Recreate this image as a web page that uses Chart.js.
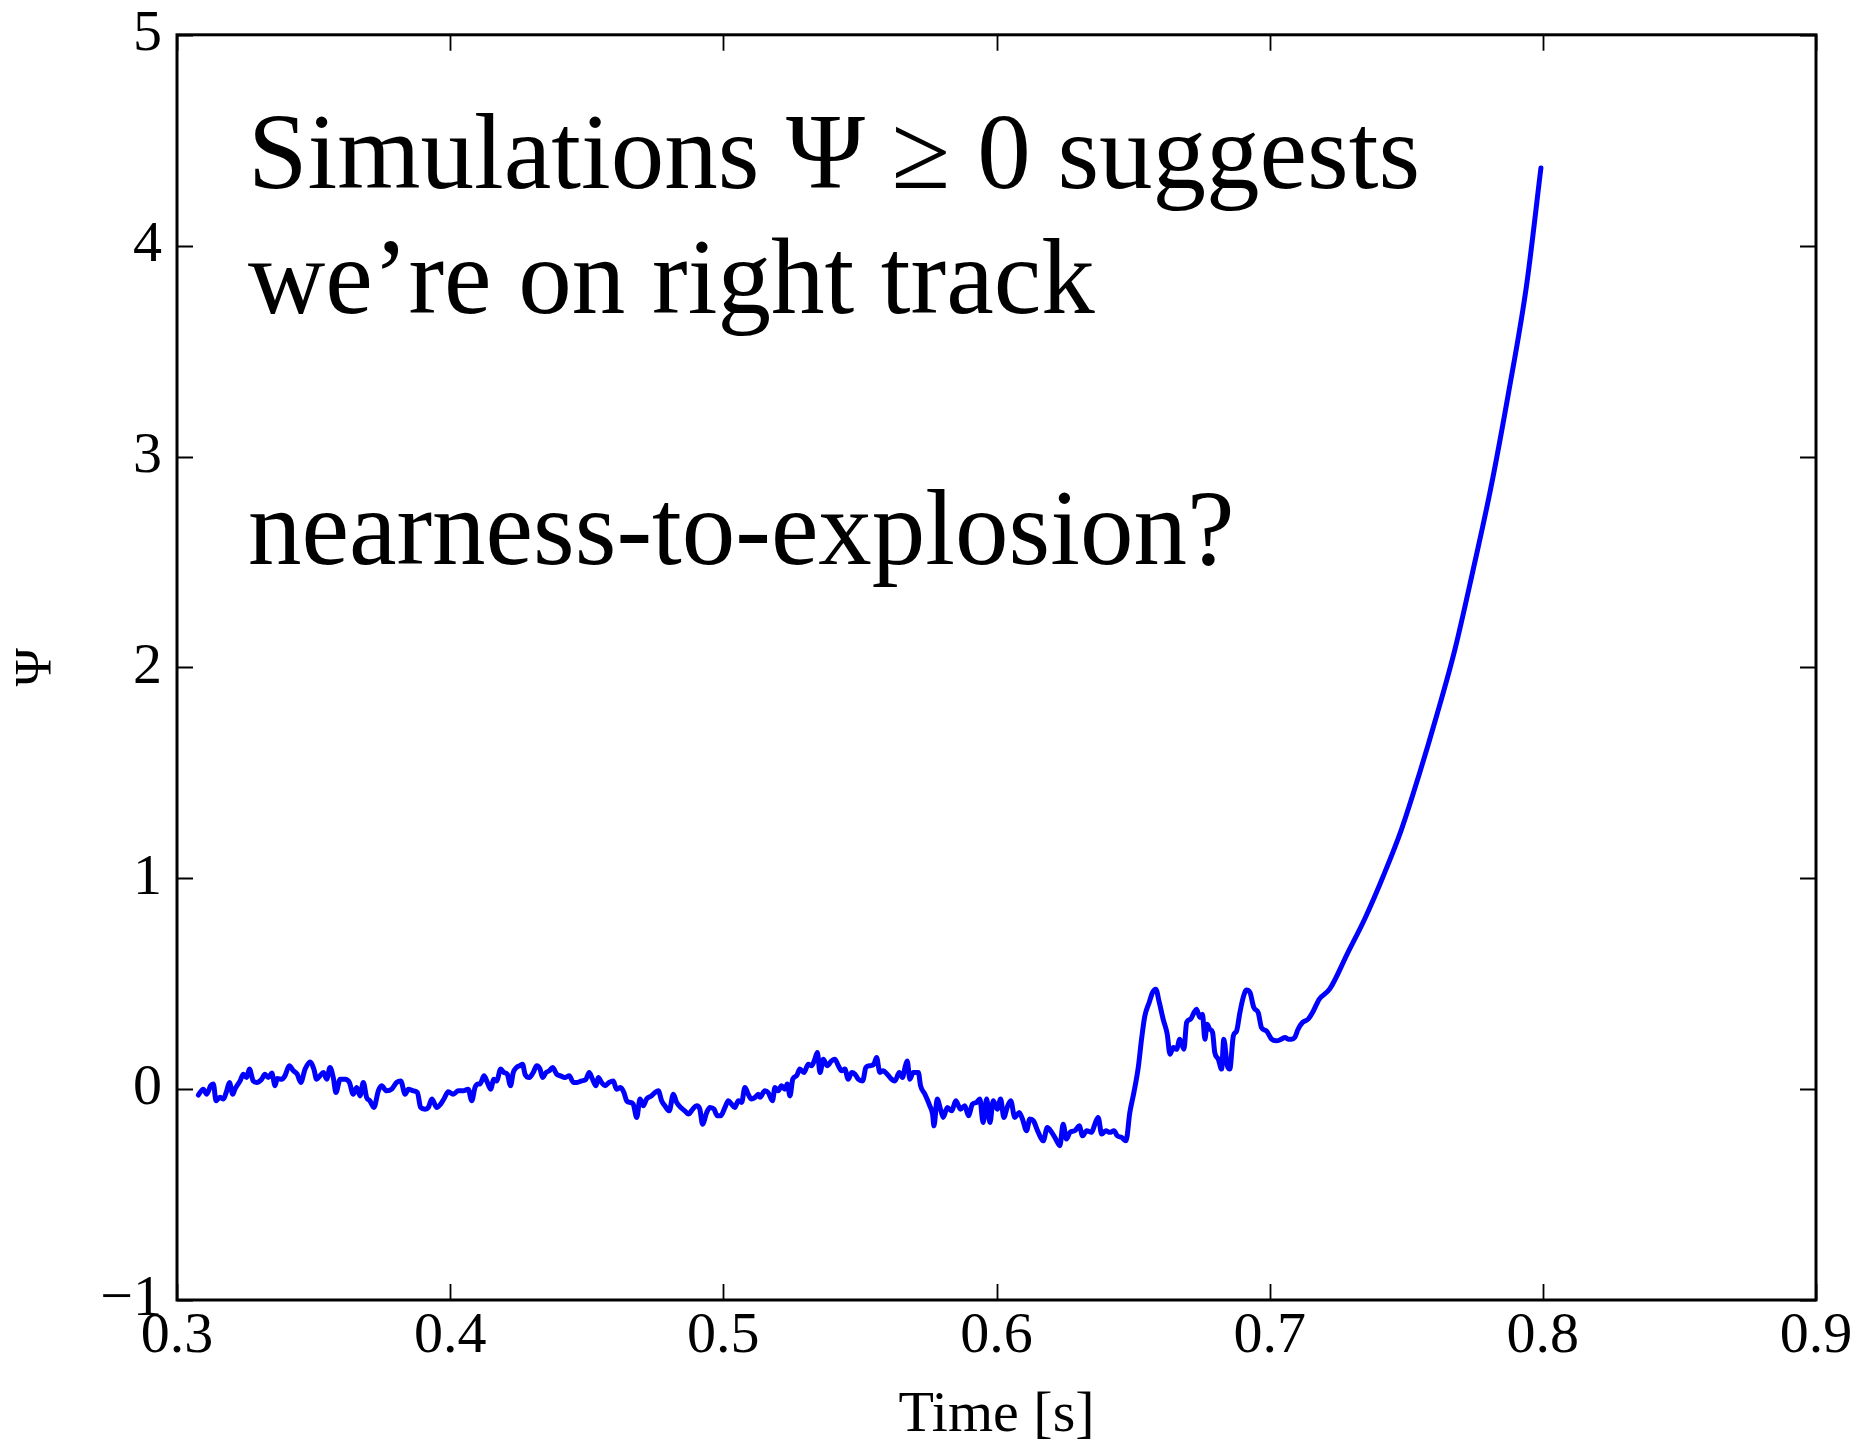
<!DOCTYPE html>
<html>
<head>
<meta charset="utf-8">
<title>Psi versus time</title>
<script src="https://cdn.jsdelivr.net/npm/chart.js@4.4.1/dist/chart.umd.min.js"></script>
<style>
  html, body { margin: 0; padding: 0; background: #fff; }
  #wrap { position: relative; width: 1870px; height: 1442px; }
</style>
</head>
<body>
<div id="wrap"><canvas id="c" width="1870" height="1442"></canvas></div>
<script>
// Simulation time [s] and the explosion condition Psi, in order of time.
const timeS = [
  // 0.31 - 0.41
  0.3078,0.3096,0.3109,0.3123,0.3133,0.3143,0.3157,0.3170,0.3182,0.3192,
  0.3204,0.3212,0.3231,0.3243,0.3255,0.3265,0.3279,0.3292,0.3310,0.3322,
  0.3334,0.3347,0.3359,0.3367,0.3383,0.3395,0.3411,0.3426,0.3440,0.3453,
  0.3469,0.3487,0.3501,0.3511,0.3523,0.3536,0.3548,0.3560,0.3572,0.3582,
  0.3597,0.3615,0.3631,0.3645,0.3658,0.3670,0.3682,0.3694,0.3706,0.3721,
  0.3737,0.3749,0.3767,0.3786,0.3804,0.3819,0.3835,0.3847,0.3865,0.3880,
  0.3892,0.3908,0.3920,0.3933,0.3951,0.3965,0.3977,0.3993,0.4011,0.4030,
  0.4048,0.4066,0.4079,0.4091,0.4103,
  // 0.41 - 0.51
  0.4109,0.4124,0.4136,0.4148,0.4160,0.4170,0.4185,0.4197,0.4209,0.4221,
  0.4231,0.4243,0.4255,0.4265,0.4274,0.4290,0.4304,0.4317,0.4329,0.4338,
  0.4351,0.4363,0.4375,0.4390,0.4404,0.4420,0.4436,0.4451,0.4465,0.4481,
  0.4497,0.4509,0.4521,0.4534,0.4542,0.4554,0.4567,0.4582,0.4597,0.4609,
  0.4624,0.4636,0.4646,0.4658,0.4670,0.4683,0.4695,0.4707,0.4719,0.4737,
  0.4750,0.4762,0.4774,0.4786,0.4802,0.4817,0.4829,0.4844,0.4859,0.4872,
  0.4888,0.4902,0.4914,0.4924,0.4939,0.4951,0.4966,0.4978,0.4990,0.5006,
  0.5018,0.5030,0.5042,0.5055,0.5067,0.5079,0.5091,0.5103,0.5116,0.5128,
  // 0.51 - 0.62
  0.5134,0.5152,0.5164,0.5180,0.5189,0.5201,0.5213,0.5225,0.5234,0.5244,
  0.5254,0.5268,0.5280,0.5295,0.5311,0.5323,0.5335,0.5344,0.5354,0.5366,
  0.5380,0.5396,0.5408,0.5421,0.5433,0.5445,0.5457,0.5470,0.5482,0.5494,
  0.5510,0.5522,0.5537,0.5551,0.5561,0.5573,0.5585,0.5600,0.5616,0.5628,
  0.5644,0.5656,0.5665,0.5673,0.5683,0.5695,0.5714,0.5722,0.5738,0.5756,
  0.5766,0.5771,0.5783,0.5795,0.5805,0.5820,0.5836,0.5851,0.5868,0.5884,
  0.5897,0.5912,0.5927,0.5939,0.5951,0.5964,0.5976,0.5988,0.6003,0.6015,
  0.6027,0.6039,0.6052,0.6067,0.6083,0.6095,0.6110,0.6122,0.6135,0.6153,
  // 0.62 - 0.72
  0.6171,0.6186,0.6202,0.6217,0.6232,0.6244,0.6256,0.6269,0.6287,0.6303,
  0.6315,0.6330,0.6348,0.6360,0.6372,0.6385,0.6400,0.6415,0.6430,0.6442,
  0.6458,0.6474,0.6488,0.6503,0.6519,0.6531,0.6543,0.6559,0.6571,0.6583,
  0.6596,0.6610,0.6625,0.6635,0.6647,0.6659,0.6671,0.6686,0.6696,0.6710,
  0.6723,0.6732,0.6745,0.6754,0.6763,0.6771,0.6781,0.6791,0.6799,0.6812,
  0.6824,0.6832,0.6845,0.6854,0.6867,0.6879,0.6891,0.6903,0.6915,0.6928,
  0.6942,0.6958,0.6970,0.6988,0.7007,0.7025,0.7043,0.7056,0.7068,0.7080,
  0.7092,0.7104,0.7120,0.7141,0.7157,0.7172,0.7181,
  // 0.72 - 0.80 runaway
  0.7220,0.7285,0.7350,0.7416,0.7481,0.7547,0.7612,0.7678,0.7743,0.7809,
  0.7874,0.7940,0.7993
];

const psi = [
  -0.028,0,-0.024,0.016,0.024,-0.055,-0.039,-0.047,-0.008,0.032,
  -0.024,0,0.039,0.071,0.055,0.095,0.039,0.032,0.047,0.071,
  0.055,0.076,0.016,0.051,0.047,0.063,0.111,0.087,0.071,0.032,
  0.095,0.129,0.095,0.047,0.063,0.079,0.047,0.103,0.055,-0.016,
  0.047,0.047,0.032,-0.024,0.008,-0.032,0.032,-0.039,-0.055,-0.087,
  -0.008,0.016,-0.008,0,0.032,0.039,-0.024,0,-0.008,-0.016,
  -0.087,-0.095,-0.087,-0.047,-0.087,-0.071,-0.047,-0.013,-0.024,-0.008,
  -0.008,0,-0.055,0.008,0.024,

  0.024,0.063,0.032,0,0.047,0.039,0.095,0.079,0.071,0.016,
  0.079,0.103,0.111,0.118,0.071,0.055,0.079,0.111,0.095,0.055,
  0.079,0.087,0.103,0.071,0.063,0.055,0.063,0.032,0.032,0.039,
  0.047,0.079,0.047,0.016,0.055,0.032,0.016,0.032,0.039,0,
  0.008,-0.016,-0.055,-0.063,-0.071,-0.134,-0.047,-0.079,-0.047,-0.032,
  -0.016,-0.008,-0.055,-0.079,-0.103,-0.024,-0.063,-0.087,-0.103,-0.118,
  -0.095,-0.079,-0.095,-0.166,-0.111,-0.087,-0.095,-0.126,-0.126,-0.087,
  -0.055,-0.071,-0.087,-0.055,-0.063,0.008,-0.024,-0.047,-0.039,-0.024,

  -0.039,-0.008,-0.016,-0.055,0.008,-0.008,0.016,0,0.024,-0.032,
  0.047,0.063,0.095,0.079,0.118,0.111,0.142,0.174,0.079,0.142,
  0.111,0.134,0.142,0.111,0.087,0.095,0.047,0.079,0.071,0.047,
  0.039,0.103,0.111,0.118,0.150,0.079,0.087,0.071,0.047,0.039,
  0.079,0.055,0.103,0.134,0.047,0.079,0.079,0.016,-0.024,-0.079,
  -0.118,-0.174,-0.047,-0.095,-0.134,-0.087,-0.103,-0.055,-0.095,-0.079,
  -0.126,-0.071,-0.063,-0.047,-0.158,-0.047,-0.158,-0.055,-0.095,-0.047,
  -0.134,-0.087,-0.055,-0.134,-0.111,-0.142,-0.197,-0.142,-0.150,-0.205,

  -0.245,-0.182,-0.205,-0.237,-0.268,-0.166,-0.237,-0.205,-0.197,-0.174,
  -0.221,-0.197,-0.205,-0.166,-0.134,-0.213,-0.197,-0.205,-0.197,-0.221,
  -0.229,-0.245,-0.111,-0.016,0.103,0.237,0.347,0.411,0.458,0.474,
  0.411,0.332,0.261,0.166,0.197,0.189,0.237,0.189,0.316,0.332,
  0.363,0.379,0.340,0.355,0.237,0.308,0.284,0.269,0.174,0.142,
  0.095,0.237,0.111,0.095,0.253,0.276,0.363,0.434,0.470,0.458,
  0.387,0.363,0.292,0.276,0.237,0.229,0.237,0.245,0.237,0.237,
  0.245,0.284,0.316,0.332,0.363,0.403,0.426,

  0.475,0.644,0.813,1.011,1.226,1.491,1.774,2.084,2.452,2.847,
  3.299,3.808,4.368
];

// Axis ranges and tick spacing
const xRange = [0.3, 0.9];
const xStep = 0.1;
const yRange = [-1, 5];
const yStep = 1;

const xTitle = 'Time [s]';
const yTitle = '\u03A8';
const noteLines = [
  'Simulations \u03A8 \u2265 0 suggests',
  'we\u2019re on right track',
  '',
  'nearness-to-explosion?'
];

const serif = '"Liberation Serif", "Times New Roman", serif';

const points = timeS.map((t, i) => ({ x: t, y: psi[i] }));

// Closed black frame with inward-pointing ticks on all four sides
const frameTicks = {
  id: 'frameTicks',
  afterDraw(chart) {
    const { ctx, chartArea: a, scales: { x, y } } = chart;
    const len = 16;
    ctx.save();
    ctx.strokeStyle = '#000';
    ctx.lineWidth = 1.8;
    ctx.beginPath();
    x.ticks.forEach(t => {
      const px = Math.round(x.getPixelForValue(t.value)) + 0.5;
      ctx.moveTo(px, a.bottom); ctx.lineTo(px, a.bottom - len);
      ctx.moveTo(px, a.top); ctx.lineTo(px, a.top + len);
    });
    y.ticks.forEach(t => {
      const py = Math.round(y.getPixelForValue(t.value)) + 0.5;
      ctx.moveTo(a.left, py); ctx.lineTo(a.left + len, py);
      ctx.moveTo(a.right, py); ctx.lineTo(a.right - len, py);
    });
    ctx.stroke();
    ctx.lineWidth = 3;
    ctx.strokeRect(a.left, a.top, a.right - a.left, a.bottom - a.top);
    ctx.restore();
  }
};

// Multi-line note in the upper left of the plot
const note = {
  id: 'note',
  afterDraw(chart) {
    const { ctx, chartArea: a } = chart;
    ctx.save();
    ctx.fillStyle = '#000';
    ctx.font = '107px ' + serif;
    ctx.textAlign = 'left';
    ctx.textBaseline = 'alphabetic';
    const lineGap = 125.5;
    noteLines.forEach((s, i) => {
      if (s) ctx.fillText(s, a.left + 71, a.top + 153 + i * lineGap);
    });
    ctx.restore();
  }
};

// Invisible spacer ticks: they only set the gap between axis and labels
const hiddenGrid = len => ({
  display: true,
  drawOnChartArea: false,
  drawTicks: true,
  tickLength: len,
  color: 'rgba(0,0,0,0)'
});

new Chart(document.getElementById('c'), {
  type: 'line',
  data: {
    datasets: [{
      data: points,
      borderColor: '#0000ff',
      borderWidth: 5,
      pointRadius: 0,
      fill: false,
      cubicInterpolationMode: 'monotone',
      borderJoinStyle: 'round',
      borderCapStyle: 'round'
    }]
  },
  options: {
    responsive: false,
    devicePixelRatio: 1,
    animation: false,
    parsing: false,
    layout: { padding: { top: 34, right: 54, left: 0, bottom: 0 } },
    plugins: { legend: { display: false }, tooltip: { enabled: false } },
    scales: {
      x: {
        type: 'linear',
        min: xRange[0],
        max: xRange[1],
        afterFit(s) { s.height = 142; },
        grid: hiddenGrid(2),
        border: { display: false },
        ticks: {
          stepSize: xStep,
          color: '#000',
          padding: 0,
          font: { family: serif, size: 58 },
          maxRotation: 0,
          callback: v => v.toFixed(1)
        },
        title: {
          display: true,
          text: xTitle,
          color: '#000',
          font: { family: serif, size: 58, lineHeight: 0.9 },
          padding: { top: 0, bottom: 0 }
        }
      },
      y: {
        type: 'linear',
        min: yRange[0],
        max: yRange[1],
        afterFit(s) { s.width = 177; },
        grid: hiddenGrid(15),
        border: { display: false },
        ticks: {
          stepSize: yStep,
          color: '#000',
          padding: 0,
          font: { family: serif, size: 58 },
          callback: v => (v < 0 ? '\u2212' + Math.abs(v) : String(v))
        },
        title: {
          display: true,
          text: yTitle,
          color: '#000',
          font: { family: serif, size: 52 },
          padding: { top: 6, bottom: 0 }
        }
      }
    }
  },
  plugins: [frameTicks, note]
});
</script>
</body>
</html>
